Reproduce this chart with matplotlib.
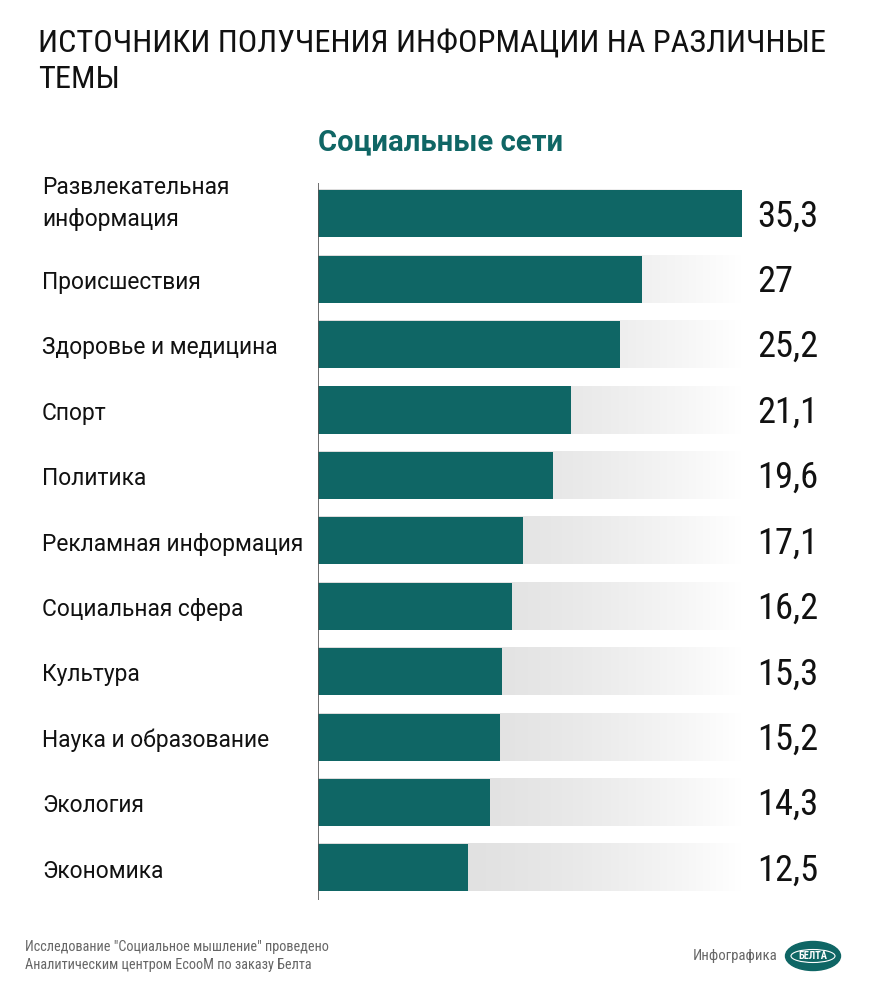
import matplotlib
matplotlib.use("Agg")
import matplotlib.pyplot as plt
from matplotlib.patches import Ellipse
import numpy as np
import warnings
import logging
logging.getLogger("matplotlib.font_manager").setLevel(logging.ERROR)
warnings.filterwarnings("ignore")

categories = ["Развлекательная\nинформация", "Происшествия", "Здоровье и медицина", "Спорт",
              "Политика", "Рекламная информация", "Социальная сфера", "Культура",
              "Наука и образование", "Экология", "Экономика"]
values = [35.3, 27, 25.2, 21.1, 19.6, 17.1, 16.2, 15.3, 15.2, 14.3, 12.5]
value_labels = ["35,3", "27", "25,2", "21,1", "19,6", "17,1", "16,2", "15,3", "15,2", "14,3", "12,5"]

title = "ИСТОЧНИКИ ПОЛУЧЕНИЯ ИНФОРМАЦИИ НА РАЗЛИЧНЫЕ\nТЕМЫ"
subtitle = "Социальные сети"
footer = "Исследование \"Социальное мышление\" проведено\nАналитическим центром ЕсооМ по заказу Белта"
credit = "Инфографика"

TEAL = "#0f6665"
W, H = 870, 1008
fig = plt.figure(figsize=(W / 100, H / 100), dpi=100)
fig.patch.set_facecolor("white")

def fx(px):
    return px / W

def fy(py):
    return 1 - py / H

FONT = ["Roboto", "DejaVu Sans"]
NARROW = ["Roboto Condensed", "PT Sans Narrow", "Fira Sans Condensed", "DejaVu Sans"]

fig.text(fx(38), fy(30), title, ha="left", va="top", fontsize=23.3, family=NARROW,
         color="#111111", linespacing=1.25)
fig.text(fx(318), fy(142), subtitle, ha="left", va="center", fontsize=21,
         fontweight="bold", family=FONT, color=TEAL)

# axes
ax_left, ax_right, ax_top, ax_bot = 318, 870, 183, 900
ax = fig.add_axes([fx(ax_left), fy(ax_bot), fx(ax_right - ax_left), (ax_bot - ax_top) / H])
n = len(values)
ax.axis("off")
ax.axvline(0, color="#555555", lw=1.2, zorder=5)

vmax = max(values)
bh = 0.72
xs = np.linspace(0, vmax, 400)
gray = 0.865 + 0.135 * (xs / vmax) ** 2
grad = np.dstack([gray, gray, gray])
for i, v in enumerate(values):
    ax.imshow(grad, extent=(0, vmax, i + bh / 2, i - bh / 2), aspect="auto",
              zorder=1, interpolation="bilinear")
    ax.barh(i, v, height=bh, color=TEAL, zorder=3)
    ax.text(36.6, i + 0.04, value_labels[i], ha="left", va="center", fontsize=26.3,
            family=NARROW, color="#111111")
    dy = -0.16 if "\n" in categories[i] else 0.05
    ax.text(-(318 - 42) / 12.0, i + dy, categories[i], ha="left", va="center", fontsize=16.4,
            family=FONT, color="#111111", linespacing=1.5)

ax.set_ylim(n - 0.51, -0.47)
ax.set_xlim(0, (ax_right - ax_left) / 12.0)

fig.text(fx(25), fy(956), footer, ha="left", va="center", fontsize=10.3, family=NARROW,
         color="#666666", linespacing=1.4)
fig.text(fx(778), fy(956), credit, ha="right", va="center", fontsize=10.6, family=NARROW,
         color="#666666")

lax = fig.add_axes([fx(784), fy(972), fx(58), (972 - 940) / H])
lax.set_xlim(0, 58)
lax.set_ylim(0, 32)
lax.axis("off")
lax.add_patch(Ellipse((29, 16), 55, 29, color=TEAL))
lax.add_patch(Ellipse((29, 16), 44, 13, facecolor="none", edgecolor="white", lw=0.8))
lax.text(29, 16, "БЕЛТА", ha="center", va="center", fontsize=7.5, fontweight="bold",
         color="white", family=NARROW)

fig.savefig("out.png", dpi=100)
